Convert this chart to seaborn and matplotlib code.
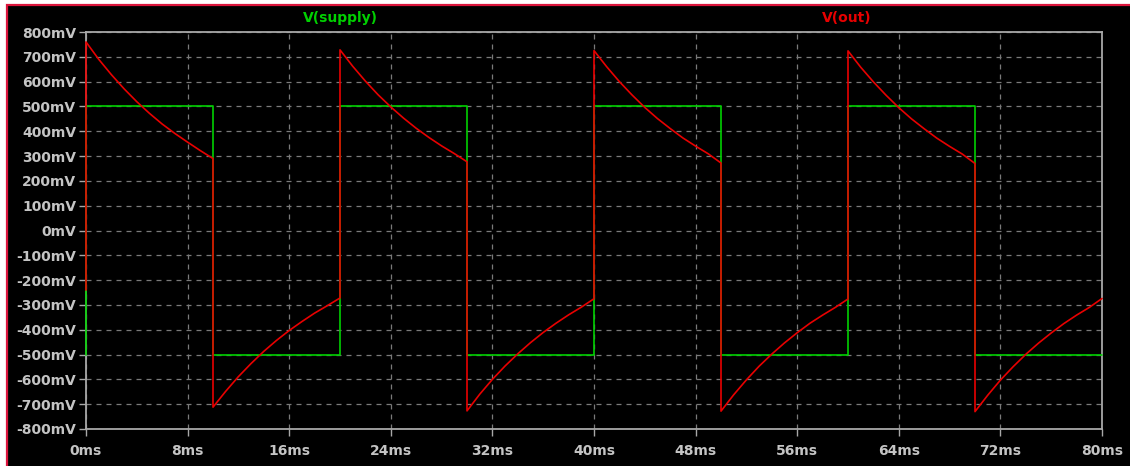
import matplotlib
matplotlib.use("Agg")
import matplotlib.pyplot as plt
from matplotlib.patches import Rectangle
from matplotlib.ticker import FuncFormatter
import pandas as pd
import seaborn as sns

# Square-wave source: breakpoints (ms) and level (V)
supply_t = [0, 0, 10, 10, 20, 20, 30, 30, 40, 40, 50, 50, 60, 60, 70, 70, 80]
supply_v = [-0.5, 0.5, 0.5, -0.5, -0.5, 0.5, 0.5, -0.5, -0.5, 0.5, 0.5, -0.5,
            -0.5, 0.5, 0.5, -0.5, -0.5]

# Output node: value before the first edge, then one sampled run per half cycle
out_initial_mv = -240
half_start_ms = [0, 10, 20, 30, 40, 50, 60, 70]
sample_ms = [0, 1, 2, 3, 4, 5, 6, 7, 8, 9, 10]
out_seg1 = [760, 690, 628, 571, 519, 472, 429, 391, 356, 322, 290]
out_seg2 = [-712, -648, -589, -536, -487, -443, -403, -367, -333, -303, -272]
out_seg3 = [728, 662, 602, 547, 498, 453, 412, 375, 341, 310, 277]
out_seg4 = [-727, -660, -600, -546, -497, -452, -411, -374, -340, -309, -275]
out_seg5 = [725, 660, 600, 546, 496, 451, 411, 373, 340, 309, 272]
out_seg6 = [-728, -662, -602, -547, -498, -453, -412, -374, -341, -310, -276]
out_seg7 = [724, 658, 599, 545, 495, 450, 410, 372, 339, 308, 270]
out_seg8 = [-730, -664, -603, -549, -499, -454, -413, -375, -341, -310, -274]
out_segments = [out_seg1, out_seg2, out_seg3, out_seg4,
                out_seg5, out_seg6, out_seg7, out_seg8]

x_ticks_ms = [0, 8, 16, 24, 32, 40, 48, 56, 64, 72, 80]
y_ticks_mv = list(range(-800, 801, 100))

# Assemble long-form table
out_t = [0]
out_v = [out_initial_mv / 1000]
for start, seg in zip(half_start_ms, out_segments):
    out_t += [start + s for s in sample_ms]
    out_v += [v / 1000 for v in seg]

df = pd.DataFrame({
    "t": list(supply_t) + out_t,
    "v": list(supply_v) + out_v,
    "trace": ["V(supply)"] * len(supply_t) + ["V(out)"] * len(out_t),
})

GREEN = "#00d000"
RED = "#e80000"
GRID = "#7a7a7a"
FRAME = "#a8a8a8"
TEXT = "#c4c4c4"

sns.set_style("dark")
plt.rcParams["font.family"] = ["DejaVu Sans"]

W, H = 1130, 466
fig = plt.figure(figsize=(W / 100, H / 100), dpi=100, facecolor="white")

# Window background with its red outline
fig.patches.append(Rectangle((6.5 / W, -0.1), 1.2, (H - 4.5) / H + 0.1,
                             transform=fig.transFigure, facecolor="black",
                             edgecolor="#dc143c", linewidth=1.6, zorder=-5))

ax = fig.add_axes([86 / W, 37 / H, 1016 / W, 397 / H])
ax.set_facecolor("black")

sns.lineplot(data=df, x="t", y="v", hue="trace",
             estimator=None, sort=False, ax=ax,
             palette={"V(supply)": GREEN, "V(out)": RED},
             hue_order=["V(supply)", "V(out)"], linewidth=1.2, legend=False,
             zorder=3, clip_on=False)

ax.set_xlim(0, 80)
ax.set_ylim(-0.8, 0.8)
ax.set_xticks(x_ticks_ms)
ax.set_yticks([v / 1000 for v in y_ticks_mv])
ax.xaxis.set_major_formatter(FuncFormatter(lambda x, p: f"{x:.0f}ms"))
ax.yaxis.set_major_formatter(FuncFormatter(lambda y, p: f"{round(y * 1000):d}mV"))
ax.set_xlabel("")
ax.set_ylabel("")

ax.grid(True, color=GRID, linestyle=(0, (4, 4)), linewidth=0.9)
ax.set_axisbelow(True)
for s in ax.spines.values():
    s.set_visible(True)
    s.set_color(FRAME)
    s.set_linewidth(1.3)

ax.tick_params(axis="both", which="major", direction="out", length=5, width=1,
               color=FRAME, labelcolor=TEXT, labelsize=10,
               bottom=True, left=True)
ax.tick_params(axis="x", pad=6)
ax.tick_params(axis="y", pad=2)
for lab in ax.get_xticklabels() + ax.get_yticklabels():
    lab.set_fontweight("bold")

fig.text(340 / W, 1 - 18 / H, "V(supply)", color=GREEN, fontsize=10,
         fontweight="bold", ha="center", va="center")
fig.text(847 / W, 1 - 18 / H, "V(out)", color=RED, fontsize=10,
         fontweight="bold", ha="center", va="center")

fig.savefig("out.png", dpi=100, facecolor=fig.get_facecolor())
